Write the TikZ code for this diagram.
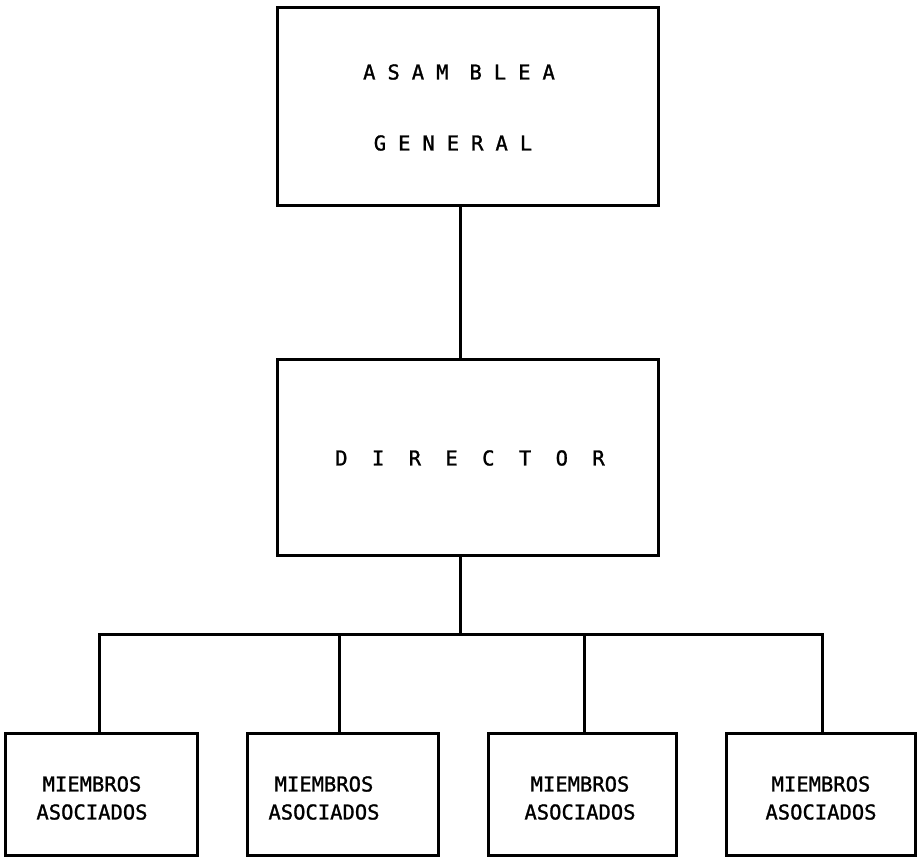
\documentclass[tikz,border=0pt]{standalone}
\usepackage{fontspec}
\newfontfamily\chartfont[FakeBold=1.2]{DejaVu Sans Mono}
\newcommand{\gp}{\hspace{12pt}}
\newcommand{\gq}{\hspace{24.4pt}}
\begin{document}
\begin{tikzpicture}[x=1pt,y=-1pt,
  box/.style={draw=black,line width=3pt,rectangle,inner sep=0pt},
  lbl/.style={inner sep=0pt,font=\chartfont\fontsize{20.5}{28}\selectfont,align=center,text=black},
  conn/.style={draw=black,line width=3pt}]
\useasboundingbox[fill=white] (0,0) rectangle (917,856);
% boxes
\node[box,minimum width=381pt,minimum height=197pt] (top) at (467.5,106.5) {};
\node[box,minimum width=381pt,minimum height=196pt] (dir) at (467.5,457) {};
\node[box,minimum width=192pt,minimum height=122pt] (m1) at (101,794) {};
\node[box,minimum width=191pt,minimum height=122pt] (m2) at (342.5,794) {};
\node[box,minimum width=188pt,minimum height=122pt] (m3) at (582,794) {};
\node[box,minimum width=189pt,minimum height=122pt] (m4) at (820.5,794) {};
% texts
\node[lbl] (t1) at (459,72) {A\gp S\gp A\gp M\hspace{21pt}B\gp L\gp E\gp A};
\node[lbl] (t2) at (453,143) {G\gp E\gp N\gp E\gp R\gp A\gp L};
\node[lbl] (t3) at (470,458) {D\gq I\gq R\gq E\gq C\gq T\gq O\gq R};
\node[lbl] (l1) at (92,798) {MIEMBROS\\ASOCIADOS};
\node[lbl] (l2) at (324,798) {MIEMBROS\\ASOCIADOS};
\node[lbl] (l3) at (580,798) {MIEMBROS\\ASOCIADOS};
\node[lbl] (l4) at (821,798) {MIEMBROS\\ASOCIADOS};
% connectors
\coordinate (hub) at (460,634);
\coordinate (b1) at (99,634);
\coordinate (b2) at (339,634);
\coordinate (b3) at (584,634);
\coordinate (b4) at (822,634);
\draw[conn] (top.south -| hub) -- (dir.north -| hub);
\draw[conn] (dir.south -| hub) -- (hub);
\draw[conn] (b1 |- m1.north) -- (b1) -- (b4) -- (b4 |- m4.north);
\draw[conn] (b2) -- (b2 |- m2.north);
\draw[conn] (b3) -- (b3 |- m3.north);
\end{tikzpicture}
\end{document}
